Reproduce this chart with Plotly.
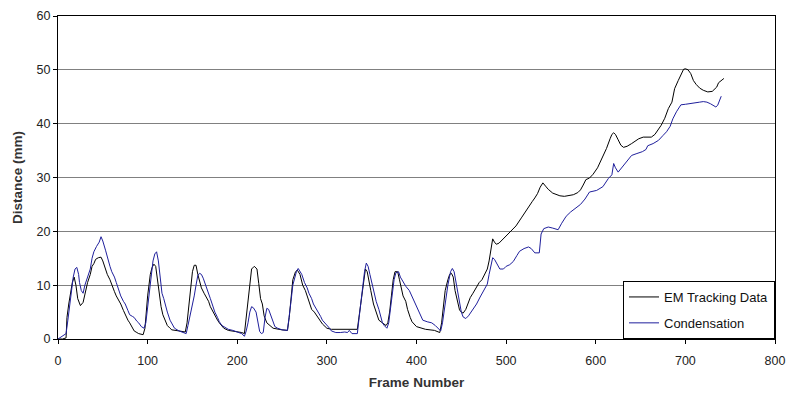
import plotly.graph_objects as go

# ---- data ----
em_frames = [0, 5, 9, 10, 12, 14, 16, 18, 20, 22, 25, 28, 30, 33, 36, 38, 40, 42, 45, 48, 50, 53, 55, 58, 60, 63, 65, 68, 70, 73, 75, 78, 80, 83, 85, 88, 90, 95, 97, 100, 103, 105, 107, 109, 111, 113, 115, 117, 120, 122, 125, 127, 135, 142, 144, 146, 148, 150, 152, 154, 156, 158, 160, 163, 165, 168, 170, 173, 175, 178, 180, 183, 185, 190, 200, 205, 208, 210, 212, 214, 216, 219, 222, 224, 226, 228, 230, 233, 236, 240, 250, 256, 258, 260, 262, 265, 267, 270, 273, 276, 278, 281, 283, 286, 290, 293, 295, 300, 305, 334, 335, 336, 338, 340, 341, 343, 345, 347, 349, 352, 355, 358, 362, 366, 368, 370, 372, 374, 376, 379, 381, 385, 388, 390, 393, 395, 400, 405, 410, 420, 426, 428, 430, 432, 435, 437, 439, 441, 443, 445, 448, 450, 452, 455, 458, 460, 463, 467, 470, 473, 476, 479, 481, 483, 485, 487, 489, 492, 495, 500, 506, 511, 517, 521, 525, 529, 532, 535, 538, 541, 544, 547, 552, 556, 560, 565, 570, 575, 580, 583, 586, 589, 593, 597, 602, 607, 612, 616, 618, 620, 622, 625, 628, 631, 635, 640, 644, 648, 653, 658, 662, 666, 670, 673, 677, 681, 685, 688, 692, 695, 698, 700, 703, 706, 709, 712, 716, 720, 725, 730, 733, 735, 737, 740, 743]
em_values = [0, 0, 0.2, 4, 6.5, 8.5, 10.5, 11.5, 10, 7.5, 6.2, 6.8, 8.5, 10.5, 12, 13.5, 14, 14.8, 15.1, 15.2, 14.5, 13, 12, 11, 10, 8.8, 8, 7.2, 6.5, 5.3, 4.5, 3.5, 3, 2.2, 1.5, 1.2, 1, 0.8, 2, 8, 12, 13.3, 13.9, 13.5, 11, 8, 6, 4.5, 3.2, 2.5, 2, 1.7, 1.5, 1.3, 3, 6, 10, 12.5, 13.7, 13.7, 12, 10.5, 9.5, 8.5, 8, 7, 6, 5, 4.5, 3.5, 3, 2.3, 2, 1.6, 1.4, 1.2, 1.0, 4, 7, 11, 13, 13.5, 13, 10.3, 7.5, 6.5, 4.3, 3, 2.5, 2.0, 1.7, 1.6, 4, 8, 11, 12.5, 12.8, 12, 10, 9, 8, 6.5, 5.5, 5, 4, 3.2, 2.8, 2.0, 1.8, 1.8, 3, 5, 7, 9.5, 11, 13, 12.5, 11, 9, 6.5, 5, 3.5, 3.0, 2.5, 3, 5, 8, 11, 12.5, 12.5, 11, 8, 7, 5.5, 4, 3.2, 2.3, 2.0, 1.8, 1.6, 1.2, 3, 6, 9, 11, 12, 12.2, 11.5, 9, 7.5, 5.4, 5, 4.8, 5.5, 7, 7.7, 8.5, 9.7, 10.5, 11, 12, 13, 14.5, 16.5, 18.6, 18, 17.6, 17.8, 18.3, 19, 20, 21, 22.5, 23.5, 24.7, 25.5, 26.2, 27, 28.2, 29, 28.4, 27.8, 27.1, 26.8, 26.6, 26.5, 26.6, 26.8, 27.2, 27.7, 28.6, 29.6, 29.9, 30.6, 31.8, 33.5, 35.4, 37.2, 38, 38.3, 38, 37, 36, 35.6, 35.8, 36.3, 36.8, 37.2, 37.5, 37.5, 37.5, 38, 39, 39.7, 41, 42.8, 44, 46.5, 48, 49.2, 50.1, 50.2, 50, 49.3, 48, 47.3, 46.6, 46.2, 45.9, 46, 46.5, 46.8, 47.6, 48, 48.4]

cond_frames = [0, 3, 6, 9, 11, 13, 15, 17, 19, 21, 23, 24, 26, 28, 30, 33, 36, 38, 40, 43, 46, 48, 50, 53, 56, 58, 60, 63, 65, 68, 70, 73, 75, 78, 80, 83, 85, 88, 90, 93, 96, 98, 100, 102, 104, 106, 108, 110, 112, 114, 116, 118, 120, 122, 125, 128, 130, 135, 140, 143, 145, 147, 150, 152, 154, 156, 158, 160, 162, 165, 167, 170, 172, 175, 178, 180, 183, 187, 190, 195, 200, 205, 208, 210, 212, 214, 216, 218, 221, 223, 225, 227, 229, 231, 233, 235, 237, 240, 242, 245, 250, 256, 258, 260, 262, 264, 266, 268, 270, 272, 275, 278, 280, 283, 285, 288, 290, 293, 295, 298, 300, 303, 305, 310, 315, 320, 323, 325, 328, 334, 336, 338, 340, 342, 344, 346, 348, 350, 352, 355, 358, 360, 362, 364, 367, 369, 371, 373, 375, 377, 380, 382, 385, 388, 392, 396, 400, 404, 407, 412, 417, 421, 424, 427, 429, 432, 435, 438, 440, 442, 444, 447, 450, 452, 455, 458, 462, 467, 471, 475, 479, 481, 483, 485, 487, 490, 493, 497, 500, 504, 508, 512, 515, 520, 525, 528, 532, 537, 539, 542, 547, 552, 558, 562, 567, 572, 578, 583, 588, 593, 601, 608, 614, 618, 620, 622, 625, 629, 632, 636, 640, 645, 652, 656, 658, 664, 670, 675, 679, 683, 686, 690, 695, 700, 706, 712, 716, 720, 724, 728, 731, 734, 736, 738, 740]
cond_values = [0, 0.3, 0.6, 1.0, 3.5, 6.5, 9, 11.5, 13, 13.3, 12, 10.5, 9, 8.5, 10, 11.5, 13, 15, 16.2, 17.2, 18, 19, 18.2, 16.5, 14.5, 13.5, 12.5, 11.5, 10.5, 9, 8, 7, 6.5, 5.3, 4.5, 4.2, 4, 3.3, 3, 2.3, 2, 3, 6, 9.5, 12, 14.5, 15.8, 16.2, 14.5, 11.5, 8.5, 7.5, 6, 5, 3.5, 2.5, 2, 1.5, 1.1, 1.0, 2.5, 4, 6, 8, 10, 11.8, 12.2, 12, 11.3, 10, 9, 7.5, 6.5, 5, 4, 3.2, 2.5, 2.0, 1.8, 1.6, 1.3, 1.0, 0.5, 1.5, 3, 5, 6, 5.8, 5, 3.5, 1.4, 1.0, 1.2, 4, 5.7, 5.5, 4.5, 3, 2.3, 2, 1.7, 1.6, 4, 7, 10, 11.5, 12.5, 13.1, 12.5, 12, 10.5, 9.5, 8.5, 7.5, 6.5, 5.7, 5, 4.2, 3.5, 3, 2.5, 2, 1.5, 1.2, 1.2, 1.3, 1.2, 1.6, 1.0, 1.0, 4, 7, 10, 12.5, 14.1, 13.5, 12, 10.5, 9, 7, 5.5, 4, 3, 2.5, 2, 3, 6, 9, 11, 12.3, 12.5, 11.5, 10.5, 9.8, 9, 7.5, 6, 4.5, 3.5, 3.2, 3.0, 2.5, 2.0, 1.5, 3, 6.5, 10, 12.5, 13.1, 12.5, 10.5, 7.5, 5, 4.1, 3.8, 4.3, 5.2, 6.5, 7.8, 9, 10.2, 12, 13.5, 15.1, 14.8, 13.8, 13, 13, 13.5, 13.8, 14.4, 15.5, 16.3, 16.8, 17.1, 16.8, 16, 16, 19.5, 20.5, 20.8, 20.6, 20.3, 21.5, 22.8, 23.6, 24.3, 25, 26, 27.3, 27.6, 28.3, 29.8, 30.5, 32.6, 31.8, 31, 31.8, 32.6, 33.4, 34.1, 34.4, 34.8, 35.2, 35.9, 36.3, 36.9, 37.8, 38.5, 39.5, 40.9, 42.2, 43.5, 43.6, 43.7, 43.9, 44, 44.1, 44, 43.7, 43.4, 43.1, 43.4, 44.2, 45.1]

series_names = ["EM Tracking Data", "Condensation"]
x_ticks = [0, 100, 200, 300, 400, 500, 600, 700, 800]
y_ticks = [0, 10, 20, 30, 40, 50, 60]

FONT = "Liberation Sans, Arial, sans-serif"

fig = go.Figure()
fig.add_trace(go.Scatter(x=em_frames, y=em_values, mode="lines", name=series_names[0],
                         legendgroup="a", line=dict(color="#000000", width=1)))
fig.add_trace(go.Scatter(x=cond_frames, y=cond_values, mode="lines", name=series_names[1],
                         legendgroup="b", line=dict(color="#1f1f9c", width=1)))

fig.update_layout(
    width=788, height=394,
    margin=dict(l=58, r=13, t=16, b=55, autoexpand=False),
    paper_bgcolor="white", plot_bgcolor="white",
    font=dict(family=FONT, size=12, color="#222222"),
    showlegend=True,
    legend=dict(x=1, y=0, xanchor="right", yanchor="bottom",
                bgcolor="white", bordercolor="#000000", borderwidth=1,
                font=dict(family=FONT, size=13, color="#111111"),
                tracegroupgap=6, itemwidth=30),
    xaxis=dict(range=[0, 800], tickvals=x_ticks, ticks="outside", ticklen=4,
               tickcolor="#000000", showline=True, linecolor="#000000", linewidth=1,
               mirror=True, showgrid=False, zeroline=False, automargin=False,
               tickfont=dict(family=FONT, size=12.5, color="#222222"),
               ticklabelstandoff=6,
               title=dict(text="<b>Frame Number</b>", font=dict(family=FONT, size=13.5, color="#333333"),
                          standoff=10)),
    yaxis=dict(range=[0, 60], tickvals=y_ticks, ticks="outside", ticklen=4,
               tickcolor="#000000", showline=True, linecolor="#000000", linewidth=1,
               mirror=True, showgrid=True, gridcolor="#808080", gridwidth=1, zeroline=False,
               automargin=False,
               tickfont=dict(family=FONT, size=12.5, color="#222222"),
               title=dict(text="<b>Distance (mm)</b>", font=dict(family=FONT, size=13.5, color="#333333"),
                          standoff=10)),
)

fig.write_html("out.html", config={"displayModeBar": False},
               post_script="document.body.style.margin='0';document.body.style.overflow='hidden';")
